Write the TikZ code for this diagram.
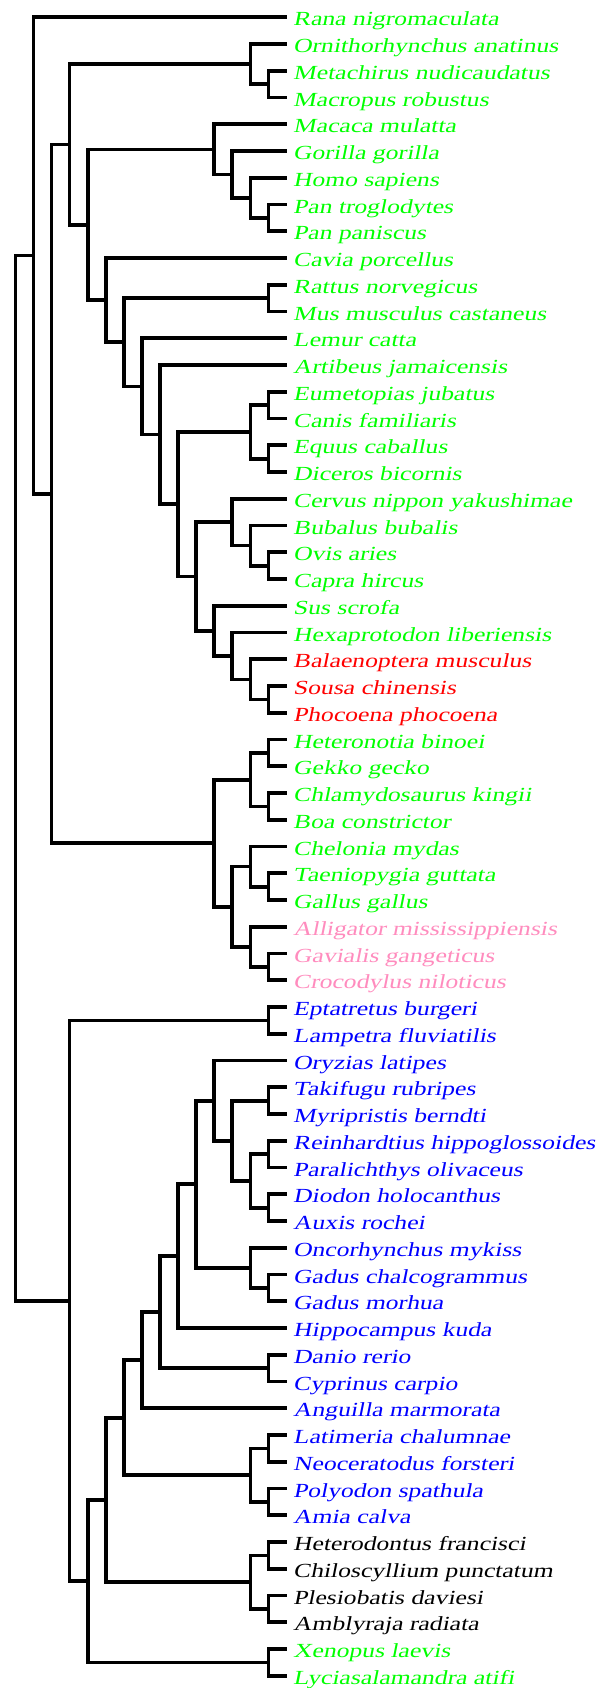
\documentclass[tikz,border=0pt]{standalone}
\usepackage{fontspec}
\setmainfont{Liberation Serif}[FakeSlant=0.2,FakeStretch=1.28]
\usetikzlibrary{calc}
\definecolor{cgreen}{RGB}{0,255,0}
\definecolor{cred}{RGB}{255,0,0}
\definecolor{cpink}{RGB}{255,140,190}
\definecolor{cblue}{RGB}{0,0,255}
\definecolor{cblack}{RGB}{0,0,0}
\def\tipx{286.5}
\def\lev{18.073}
\newcommand\lf[4]{\node[leafnode,text=#3] (#1) at (\tipx,#2) {#4};}
\newcommand\cld[4]{%
  \path let \p1=(#3), \p2=(#4) in coordinate (#1) at ({(\tipx-#2*\lev)*1pt},{0.5*\y1+0.5*\y2});
  \draw[branch] (#1) |- (#3);
  \draw[branch] (#1) |- (#4);
}
\begin{document}
\begin{tikzpicture}[x=1pt,y=-1pt,
  branch/.style={line width=3.7pt,line cap=butt,line join=miter,black},
  leafnode/.style={anchor=west,inner xsep=6.5pt,inner ysep=0pt,text height=17pt,text depth=0pt,
    font=\fontsize{20}{20}\selectfont}]
\useasboundingbox (0,0) rectangle (600,1688);
\fill[white] (0,0) rectangle (600,1688);
\lf{l1}{17.30}{cgreen}{Rana nigromaculata}
\lf{l2}{44.05}{cgreen}{Ornithorhynchus anatinus}
\lf{l3}{70.80}{cgreen}{Metachirus nudicaudatus}
\lf{l4}{97.55}{cgreen}{Macropus robustus}
\lf{l5}{124.30}{cgreen}{Macaca mulatta}
\lf{l6}{151.05}{cgreen}{Gorilla gorilla}
\lf{l7}{177.80}{cgreen}{Homo sapiens}
\lf{l8}{204.55}{cgreen}{Pan troglodytes}
\lf{l9}{231.30}{cgreen}{Pan paniscus}
\lf{l10}{258.05}{cgreen}{Cavia porcellus}
\lf{l11}{284.80}{cgreen}{Rattus norvegicus}
\lf{l12}{311.55}{cgreen}{Mus musculus castaneus}
\lf{l13}{338.30}{cgreen}{Lemur catta}
\lf{l14}{365.05}{cgreen}{Artibeus jamaicensis}
\lf{l15}{391.80}{cgreen}{Eumetopias jubatus}
\lf{l16}{418.55}{cgreen}{Canis familiaris}
\lf{l17}{445.30}{cgreen}{Equus caballus}
\lf{l18}{472.05}{cgreen}{Diceros bicornis}
\lf{l19}{498.80}{cgreen}{Cervus nippon yakushimae}
\lf{l20}{525.55}{cgreen}{Bubalus bubalis}
\lf{l21}{552.30}{cgreen}{Ovis aries}
\lf{l22}{579.05}{cgreen}{Capra hircus}
\lf{l23}{605.80}{cgreen}{Sus scrofa}
\lf{l24}{632.55}{cgreen}{Hexaprotodon liberiensis}
\lf{l25}{659.30}{cred}{Balaenoptera musculus}
\lf{l26}{686.05}{cred}{Sousa chinensis}
\lf{l27}{712.80}{cred}{Phocoena phocoena}
\lf{l28}{739.55}{cgreen}{Heteronotia binoei}
\lf{l29}{766.30}{cgreen}{Gekko gecko}
\lf{l30}{793.05}{cgreen}{Chlamydosaurus kingii}
\lf{l31}{819.80}{cgreen}{Boa constrictor}
\lf{l32}{846.55}{cgreen}{Chelonia mydas}
\lf{l33}{873.30}{cgreen}{Taeniopygia guttata}
\lf{l34}{900.05}{cgreen}{Gallus gallus}
\lf{l35}{926.80}{cpink}{Alligator mississippiensis}
\lf{l36}{953.55}{cpink}{Gavialis gangeticus}
\lf{l37}{980.30}{cpink}{Crocodylus niloticus}
\lf{l38}{1007.05}{cblue}{Eptatretus burgeri}
\lf{l39}{1033.80}{cblue}{Lampetra fluviatilis}
\lf{l40}{1060.55}{cblue}{Oryzias latipes}
\lf{l41}{1087.30}{cblue}{Takifugu rubripes}
\lf{l42}{1114.05}{cblue}{Myripristis berndti}
\lf{l43}{1140.80}{cblue}{Reinhardtius hippoglossoides}
\lf{l44}{1167.55}{cblue}{Paralichthys olivaceus}
\lf{l45}{1194.30}{cblue}{Diodon holocanthus}
\lf{l46}{1221.05}{cblue}{Auxis rochei}
\lf{l47}{1247.80}{cblue}{Oncorhynchus mykiss}
\lf{l48}{1274.55}{cblue}{Gadus chalcogrammus}
\lf{l49}{1301.30}{cblue}{Gadus morhua}
\lf{l50}{1328.05}{cblue}{Hippocampus kuda}
\lf{l51}{1354.80}{cblue}{Danio rerio}
\lf{l52}{1381.55}{cblue}{Cyprinus carpio}
\lf{l53}{1408.30}{cblue}{Anguilla marmorata}
\lf{l54}{1435.05}{cblue}{Latimeria chalumnae}
\lf{l55}{1461.80}{cblue}{Neoceratodus forsteri}
\lf{l56}{1488.55}{cblue}{Polyodon spathula}
\lf{l57}{1515.30}{cblue}{Amia calva}
\lf{l58}{1542.05}{cblack}{Heterodontus francisci}
\lf{l59}{1568.80}{cblack}{Chiloscyllium punctatum}
\lf{l60}{1595.55}{cblack}{Plesiobatis daviesi}
\lf{l61}{1622.30}{cblack}{Amblyraja radiata}
\lf{l62}{1649.05}{cgreen}{Xenopus laevis}
\lf{l63}{1675.80}{cgreen}{Lyciasalamandra atifi}
% tetrapods
\cld{cm2}{1}{l3}{l4}
\cld{cm}{2}{l2}{cm2}
\cld{cp4}{1}{l8}{l9}
\cld{cp3}{2}{l7}{cp4}
\cld{cp2}{3}{l6}{cp3}
\cld{cp}{4}{l5}{cp2}
\cld{cro}{1}{l11}{l12}
\cld{cj1}{1}{l15}{l16}
\cld{cj2}{1}{l17}{l18}
\cld{cj}{2}{cj1}{cj2}
\cld{cl3}{1}{l21}{l22}
\cld{cl2}{2}{l20}{cl3}
\cld{cl}{3}{l19}{cl2}
\cld{cq2}{1}{l26}{l27}
\cld{cq}{2}{l25}{cq2}
\cld{co}{3}{l24}{cq}
\cld{cn}{4}{l23}{co}
\cld{ck}{5}{cl}{cn}
\cld{ci}{6}{cj}{ck}
\cld{ch}{7}{l14}{ci}
\cld{cg}{8}{l13}{ch}
\cld{cf}{9}{cro}{cg}
\cld{ce}{10}{l10}{cf}
\cld{cd}{11}{cp}{ce}
\cld{cc}{12}{cm}{cd}
\cld{cs1}{1}{l28}{l29}
\cld{cs2}{1}{l30}{l31}
\cld{cs}{2}{cs1}{cs2}
\cld{ctb}{1}{l33}{l34}
\cld{ct1}{2}{l32}{ctb}
\cld{ctc}{1}{l36}{l37}
\cld{ct2}{2}{l35}{ctc}
\cld{ct}{3}{ct1}{ct2}
\cld{cr}{4}{cs}{ct}
\cld{cb}{13}{cc}{cr}
\cld{ca}{14}{l1}{cb}
% fishes
\cld{cag}{1}{l38}{l39}
\cld{cqa}{1}{l41}{l42}
\cld{cpa}{1}{l43}{l44}
\cld{cpb}{1}{l45}{l46}
\cld{cpp}{2}{cpa}{cpb}
\cld{cqq}{3}{cqa}{cpp}
\cld{crr}{4}{l40}{cqq}
\cld{cgd2}{1}{l48}{l49}
\cld{cgd}{2}{l47}{cgd2}
\cld{css}{5}{crr}{cgd}
\cld{ctt}{6}{css}{l50}
\cld{ccy}{1}{l51}{l52}
\cld{cu}{7}{ctt}{ccy}
\cld{cv}{8}{cu}{l53}
\cld{csa1}{1}{l54}{l55}
\cld{csa2}{1}{l56}{l57}
\cld{csa}{2}{csa1}{csa2}
\cld{cw}{9}{cv}{csa}
\cld{cch1}{1}{l58}{l59}
\cld{cch2}{1}{l60}{l61}
\cld{cch}{2}{cch1}{cch2}
\cld{cx}{10}{cw}{cch}
\cld{cam}{1}{l62}{l63}
\cld{cy}{11}{cx}{cam}
\cld{cz}{12}{cag}{cy}
\cld{root}{15}{ca}{cz}
\end{tikzpicture}
\end{document}
